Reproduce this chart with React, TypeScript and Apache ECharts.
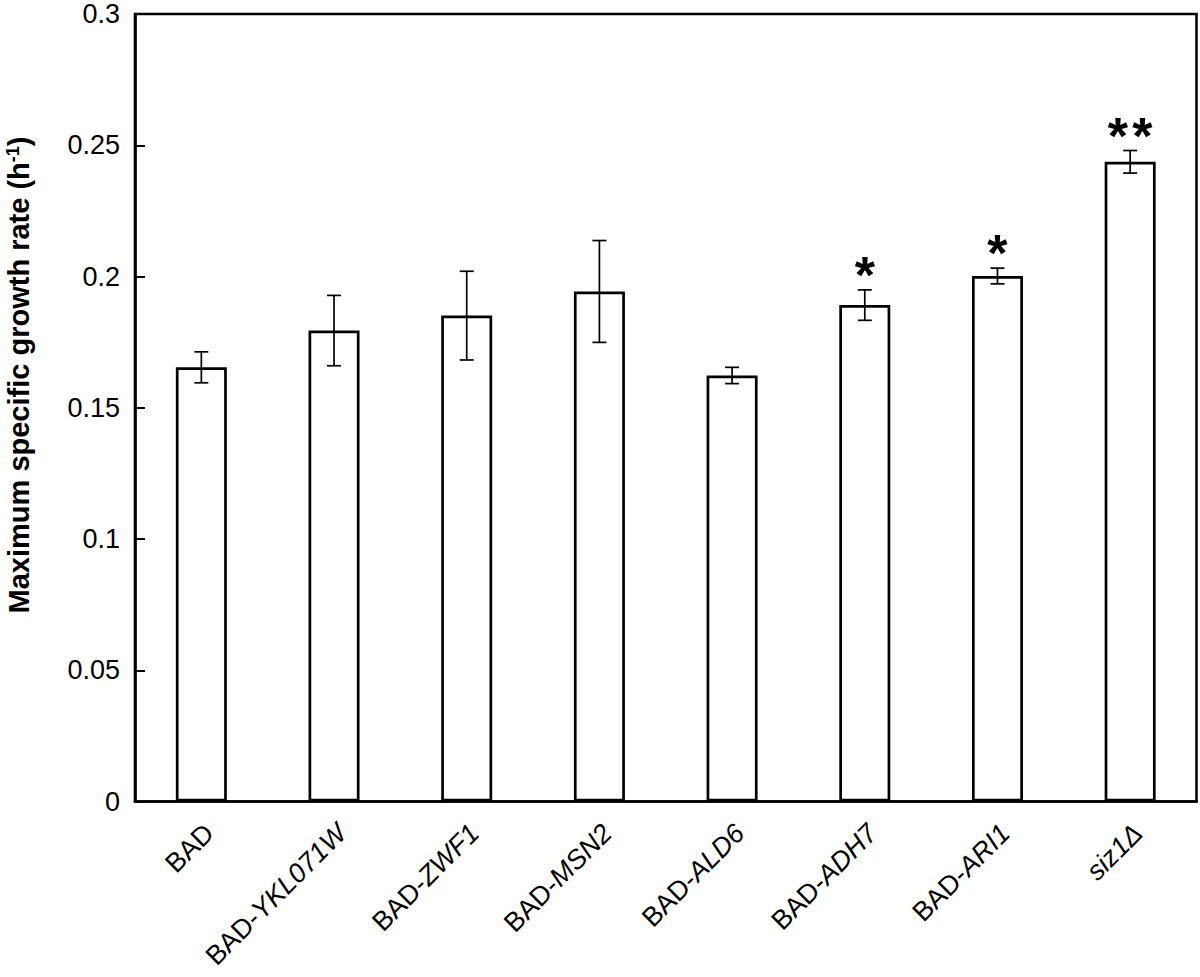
import React, { useEffect, useRef } from "react";
import * as echarts from "echarts";

const labelPrefix = ["BAD", "BAD-", "BAD-", "BAD-", "BAD-", "BAD-", "BAD-", ""];
const labelGene = ["", "YKL071W", "ZWF1", "MSN2", "ALD6", "ADH7", "ARI1", "siz1Δ"];
const categories = labelPrefix.map((p, i) => p + labelGene[i]);
const means = [0.1654, 0.1794, 0.1851, 0.1943, 0.1623, 0.1891, 0.2002, 0.2437];
const errors = [0.0059, 0.0134, 0.0169, 0.0194, 0.0031, 0.0058, 0.003, 0.0043];
const stars = [0, 0, 0, 0, 0, 1, 1, 2];
const yTicks = [0, 0.05, 0.1, 0.15, 0.2, 0.25, 0.3];
const yTitle = "Maximum specific growth rate (h";
const yTitleSup = "-1";

const FONT = "'Liberation Sans', Arial, Helvetica, sans-serif";

export default function App() {
  const ref = useRef<HTMLDivElement>(null);
  useEffect(() => {
    if (!ref.current) return;
    const chart = echarts.init(ref.current, null, { renderer: "svg" });
    const option: any = {
      animation: false,
      backgroundColor: "#ffffff",
      textStyle: { fontFamily: FONT },
      grid: {
        left: 135,
        right: 3.5,
        top: 14,
        bottom: 175.5,
        show: true,
        borderColor: "#000",
        borderWidth: 2.6,
        containLabel: false,
      },
      graphic: [
        {
          type: "text",
          x: 19,
          y: 375,
          rotation: Math.PI / 2,
          style: {
            text: `{t|${yTitle}}{s|${yTitleSup}}{t|)}`,
            align: "center",
            verticalAlign: "middle",
            rich: {
              t: { fontSize: 29, lineHeight: 32, fontWeight: "bold", fontFamily: FONT, fill: "#000", color: "#000" },
              s: {
                fontSize: 18,
                lineHeight: 18,
                fontWeight: "bold",
                fontFamily: FONT,
                fill: "#000",
                color: "#000",
                padding: [0, 0, 13, 0],
              },
            },
          },
        },
      ],
      xAxis: {
        type: "category",
        data: categories,
        axisLine: { show: true, lineStyle: { color: "#000", width: 2.6 } },
        axisTick: { show: false },
        axisLabel: {
          rotate: 45,
          margin: 35,
          color: "#000",
          fontSize: 27,
          fontFamily: FONT,
          padding: [0, -11, 0, 0],
          formatter: (val: string, idx: number) => {
            const p = labelPrefix[idx];
            const g = labelGene[idx];
            let s = "";
            if (p) s += `{n|${p}}`;
            if (g) s += `{i|${g}}`;
            return s;
          },
          rich: {
            n: { fontSize: 27, fontFamily: FONT, color: "#000" },
            i: { fontSize: 27, fontFamily: FONT, fontStyle: "italic", color: "#000" },
          },
        },
      },
      yAxis: {
        type: "value",
        min: 0,
        max: 0.3,
        interval: 0.05,
        axisLine: { show: true, lineStyle: { color: "#000", width: 2.6 } },
        axisTick: { show: true, inside: true, length: 10, lineStyle: { color: "#000", width: 2 } },
        splitLine: { show: false },
        axisLabel: {
          color: "#000",
          fontSize: 27,
          fontFamily: FONT,
          margin: 15,
          formatter: (v: number) => {
            const t = yTicks.find((x) => Math.abs(x - v) < 1e-9);
            return t === undefined ? "" : String(t);
          },
        },
      },
      series: [
        {
          type: "bar",
          data: means,
          barWidth: 51,
          itemStyle: { color: "#fff", borderColor: "#000", borderWidth: 2.7 },
          z: 2,
        },
        {
          type: "custom",
          data: means.map((m, i) => [i, m, errors[i]]),
          z: 3,
          renderItem: (params: any, api: any) => {
            const x = api.value(0);
            const m = api.value(1);
            const e = api.value(2);
            const top = api.coord([x, m + e]);
            const bot = api.coord([x, m - e]);
            const hw = 7;
            const st = { stroke: "#000", lineWidth: 1.7 };
            return {
              type: "group",
              children: [
                { type: "line", shape: { x1: top[0], y1: top[1], x2: bot[0], y2: bot[1] }, style: st },
                { type: "line", shape: { x1: top[0] - hw, y1: top[1], x2: top[0] + hw, y2: top[1] }, style: st },
                { type: "line", shape: { x1: bot[0] - hw, y1: bot[1], x2: bot[0] + hw, y2: bot[1] }, style: st },
              ],
            };
          },
        },
        {
          type: "custom",
          data: means.map((m, i) => [i, m + errors[i]]),
          z: 4,
          renderItem: (params: any, api: any) => {
            const n = stars[params.dataIndex];
            if (!n) return null;
            const p = api.coord([api.value(0), api.value(1)]);
            const children: any[] = [];
            for (let k = 0; k < n; k++) {
              children.push({
                type: "text",
                x: p[0] + (k - (n - 1) / 2) * 24.5,
                y: p[1] + 11,
                style: {
                  text: "*",
                  fill: "#000",
                  fontSize: 52,
                  fontWeight: "bold",
                  fontFamily: FONT,
                  align: "center",
                  verticalAlign: "bottom",
                },
              });
            }
            return { type: "group", children };
          },
        },
      ],
    };
    chart.setOption(option);
    return () => chart.dispose();
  }, []);
  return (
    <div
      ref={ref}
      style={{ position: "fixed", left: 0, top: 0, width: 1200, height: 977, background: "#fff" }}
    />
  );
}
